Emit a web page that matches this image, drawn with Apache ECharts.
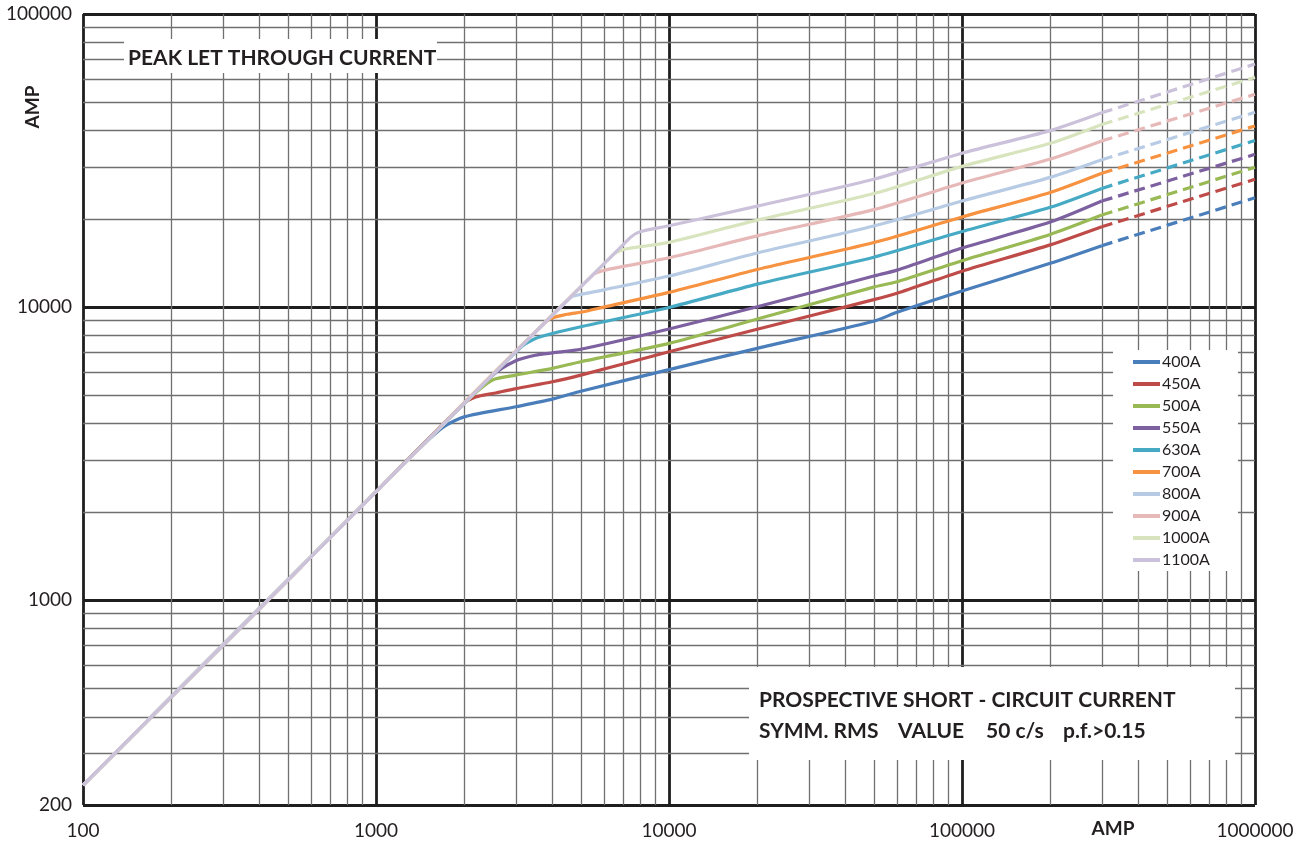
<!DOCTYPE html>
<html>
<head>
<meta charset="utf-8">
<script src="https://cdn.jsdelivr.net/npm/echarts@6/dist/echarts.min.js"></script>
<style>
html,body{margin:0;padding:0;background:#fff;}
#chart{width:1307px;height:848px;}
</style>
</head>
<body>
<div id="chart"></div>
<script>
// ---- data ----
const names = ['400A','450A','500A','550A','630A','700A','800A','900A','1000A','1100A'];
const A400 = [[100,234],[1000,2340],[1450,3390],[1700,3900],[2000,4220],[3000,4570],[4000,4850],[5000,5160],[10000,6120],[20000,7230],[50000,8950],[60000,9600],[100000,11350],[200000,14100],[300000,16200]];
const A450 = [[100,234],[1000,2340],[2000,4700],[2200,4940],[2500,5070],[3000,5270],[4000,5560],[5000,5860],[10000,7040],[20000,8400],[50000,10600],[60000,11150],[100000,13250],[200000,16300],[300000,18800]];
const A500 = [[100,234],[1000,2340],[2100,4910],[2500,5640],[3000,5860],[4000,6180],[5000,6510],[10000,7520],[20000,9100],[50000,11700],[60000,12200],[100000,14400],[200000,17700],[300000,20600]];
const A550 = [[100,234],[1000,2340],[2500,5850],[3000,6560],[3500,6850],[4000,6980],[5000,7180],[10000,8420],[20000,10020],[50000,12760],[60000,13370],[100000,15900],[200000,19500],[300000,23000]];
const A630 = [[100,234],[1000,2340],[3100,7250],[3500,7810],[4000,8130],[5000,8570],[10000,9970],[20000,11980],[50000,14800],[100000,18100],[200000,21900],[300000,25400]];
const A700 = [[100,234],[1000,2340],[3850,9010],[4500,9450],[5000,9600],[6000,10000],[10000,11220],[20000,13440],[50000,16600],[100000,20300],[200000,24600],[300000,28600]];
const A800 = [[100,234],[1000,2340],[4600,10760],[5000,11050],[6000,11450],[10000,12760],[20000,15300],[50000,18900],[100000,23000],[200000,27700],[300000,31800]];
const A900 = [[100,234],[1000,2340],[5500,12870],[6050,13370],[7000,13770],[10000,14730],[20000,17500],[50000,21500],[100000,26500],[200000,32000],[300000,36900]];
const A1000 = [[100,234],[1000,2340],[6400,14980],[7000,15730],[8000,16070],[10000,16630],[20000,19800],[50000,24400],[100000,30200],[200000,36200],[300000,42000]];
const A1100 = [[100,234],[1000,2340],[7400,17320],[8000,18100],[10000,18950],[20000,22100],[50000,27300],[100000,33500],[200000,40000],[300000,46000]];
const solidCurves = [A400,A450,A500,A550,A630,A700,A800,A900,A1000,A1100];
const dashEndX = 1000000;
const dashEndY = [23600,27300,30000,33200,37000,41500,46200,53200,60800,67500];
const xTicks = [100,1000,10000,100000,1000000];
const yTicks = [200,1000,10000,100000];
const xMinor = [200,300,400,500,600,700,800,900,2000,3000,4000,5000,6000,7000,8000,9000,20000,30000,40000,50000,60000,70000,80000,90000,200000,300000,400000,500000,600000,700000,800000,900000];
const yMinor = [300,400,500,600,700,800,900,2000,3000,4000,5000,6000,7000,8000,9000,20000,30000,40000,50000,60000,70000,80000,90000];
const titleText = 'PEAK LET THROUGH CURRENT';
const noteLine1 = 'PROSPECTIVE SHORT - CIRCUIT CURRENT';
const noteLine2 = ['SYMM. RMS','VALUE','50 c/s','p.f.>0.15'];

// ---- styles ----
const colors = ['#4A7EBB','#BE4B48','#98B954','#7D60A0','#46AAC5','#F69240','#B7CBE4','#E6B9B8','#D7E4BD','#CCC1DA'];
const FONT = 'Lato';
const TXT = '#231f20';
const note2X = [759, 898, 986, 1063];

const chart = echarts.init(document.getElementById('chart'), null, {renderer:'canvas'});

const series = [];
series.push({
  type:'line', data:[[100,200]], symbol:'none', lineStyle:{width:0}, z:1, silent:true,
  markLine:{
    silent:true, symbol:['none','none'], label:{show:false}, z:1, animation:false,
    lineStyle:{color:'#707070', width:1.3, type:'solid'},
    emphasis:{disabled:true},
    data: xMinor.map(v=>({xAxis:v})).concat(yMinor.map(v=>({yAxis:v})))
  }
});
names.forEach((n,i)=>{
  const d = solidCurves[i];
  series.push({
    name:n, type:'line', data:d, symbol:'none', showSymbol:false, smooth:0.25,
    lineStyle:{color:colors[i], width:3.2}, itemStyle:{color:colors[i]}, z:10+i, silent:true
  });
  series.push({
    name:n, type:'line', data:[d[d.length-1],[dashEndX,dashEndY[i]]], symbol:'none', showSymbol:false,
    lineStyle:{color:colors[i], width:3.2, type:[11,6]}, itemStyle:{color:colors[i]}, z:10+i, silent:true
  });
});

const boldText = (x,y,t,extra) => Object.assign({type:'text', x:x, y:y, z:51,
  style:{text:t, fontFamily:FONT, fontWeight:'bold', fontSize:21, fill:TXT, align:'left', verticalAlign:'middle'}}, extra||{});

const graphics = [
  {type:'rect', shape:{x:124,y:39,width:313,height:34}, style:{fill:'#fff'}, z:50},
  boldText(128,58,titleText),
  {type:'rect', shape:{x:749,y:667,width:486,height:93}, style:{fill:'#fff'}, z:50},
  boldText(759,700,noteLine1)
];
noteLine2.forEach((t,i)=>graphics.push(boldText(note2X[i],731,t)));
graphics.push({type:'text', x:33, y:107, rotation:Math.PI/2, z:51, style:{text:'AMP', fontFamily:FONT, fontWeight:'bold', fontSize:19, fill:TXT, align:'center', verticalAlign:'middle'}});
graphics.push({type:'text', x:1113, y:829, z:51, style:{text:'AMP', fontFamily:FONT, fontWeight:'bold', fontSize:19, fill:TXT, align:'center', verticalAlign:'middle'}});

chart.setOption({
  animation:false,
  backgroundColor:'#fff',
  grid:{left:83, right:52, top:14, bottom:43, containLabel:false},
  xAxis:{
    type:'log', logBase:10, min:xTicks[0], max:xTicks[xTicks.length-1],
    axisLine:{show:false}, axisTick:{show:false},
    axisLabel:{fontFamily:FONT, fontSize:19, color:TXT, margin:16, formatter:v=>String(Math.round(v))},
    splitLine:{show:true, lineStyle:{color:'#1e1e1e', width:2.8}}
  },
  yAxis:{
    type:'log', logBase:10, min:yTicks[0], max:yTicks[yTicks.length-1],
    axisLine:{show:false}, axisTick:{show:false},
    axisLabel:{fontFamily:FONT, fontSize:19, color:TXT, margin:11, formatter:v=>String(Math.round(v))},
    splitLine:{show:true, lineStyle:{color:'#1e1e1e', width:2.8}}
  },
  legend:{
    data:names, orient:'vertical', left:1113, top:350,
    backgroundColor:'#fff', padding:[4,28,3,20], itemGap:6,
    itemWidth:27, itemHeight:4, icon:'rect', z:30,
    selectedMode:false,
    textStyle:{fontFamily:FONT, fontSize:16, color:TXT, padding:[0,0,0,-3], lineHeight:16}
  },
  graphic:graphics,
  series:series
});
</script>
</body>
</html>
